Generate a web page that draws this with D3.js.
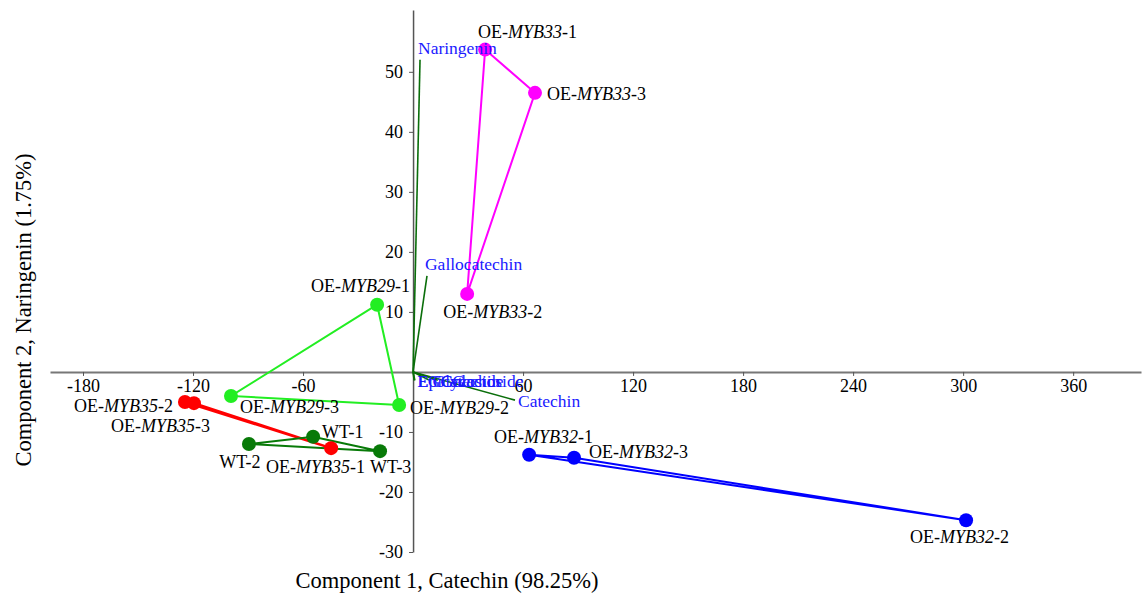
<!DOCTYPE html>
<html>
<head>
<meta charset="utf-8">
<script src="https://cdn.jsdelivr.net/npm/d3@7"></script>
<style>
  body { margin: 0; background: #fff; }
  text { font-family: "Liberation Serif", "DejaVu Serif", serif; }
  .axis text { font-size: 18px; fill: #000; }
</style>
</head>
<body>
<div id="pca"></div>
<script>
// Sample scores (Component 1, Component 2)
const groups = ["OE-MYB33", "OE-MYB29", "OE-MYB35", "WT", "OE-MYB32"];
const sampleNames = [
  "OE-MYB33-1", "OE-MYB33-2", "OE-MYB33-3",
  "OE-MYB29-1", "OE-MYB29-2", "OE-MYB29-3",
  "OE-MYB35-1", "OE-MYB35-2", "OE-MYB35-3",
  "WT-1", "WT-2", "WT-3",
  "OE-MYB32-1", "OE-MYB32-2", "OE-MYB32-3"
];
const sampleGroup = [0, 0, 0, 1, 1, 1, 2, 2, 2, 3, 3, 3, 4, 4, 4];
const pc1 = [39.3, 29.5, 66.5, -19.6, -7.6, -99.3, -44.7, -124.4, -119.5, -54.5, -89.5, -18.0, 63.3, 301.6, 87.8];
const pc2 = [53.7, 13.0, 46.5, 11.2, -5.5, -4.0, -12.7, -5.0, -5.2, -10.8, -12.0, -13.2, -13.8, -24.7, -14.3];

// Loadings (biplot vectors)
const loadingNames = ["Naringenin", "Gallocatechin", "Catechin", "EGCG", "Epicatechin", "Glycoside", "Galactoside"];
const loadX = [3.8, 7.6, 55.6, 0.6, 1.0, 9.0, 13.5];
const loadY = [52.0, 16.0, -4.7, -1.4, -1.4, -1.4, -1.4];

const xTicks = [-180, -120, -60, 60, 120, 180, 240, 300, 360];
const yTicks = [-30, -20, -10, 10, 20, 30, 40, 50];

// styling and label placement
const groupColor = ["#ff00ff", "#22ee22", "#ff0000", "#087a08", "#0000ff"];
const labelPos = {
  "OE-MYB33-1": [-7, -12, "start"],
  "OE-MYB33-2": [-24, 24, "start"],
  "OE-MYB33-3": [12, 7, "start"],
  "OE-MYB29-1": [33, -13, "end"],
  "OE-MYB29-2": [11, 9, "start"],
  "OE-MYB29-3": [9, 17, "start"],
  "OE-MYB35-1": [34, 25, "end"],
  "OE-MYB35-2": [-12, 10, "end"],
  "OE-MYB35-3": [16, 29, "end"],
  "WT-1": [9, 1, "start"],
  "WT-2": [-9, 24, "middle"],
  "WT-3": [-10, 22, "start"],
  "OE-MYB32-1": [-35, -12, "start"],
  "OE-MYB32-2": [-56, 23, "start"],
  "OE-MYB32-3": [15, 0, "start"]
};

const W = 1142, H = 596;
const svg = d3.select("#pca").append("svg")
  .attr("width", W)
  .attr("height", H);

const x = d3.scaleLinear().domain([-198, 397]).range([50, 1141]);
const y = d3.scaleLinear().domain([-30, 60.3]).range([552, 10]);

// Axes crossing at origin
const xAxis = svg.append("g")
  .attr("class", "axis")
  .attr("transform", `translate(0,${y(0)})`)
  .call(d3.axisBottom(x).tickValues(xTicks).tickFormat(d => String(d))
    .tickSize(4).tickPadding(3).tickSizeOuter(0));
xAxis.select(".domain").attr("stroke", "#777").attr("stroke-width", 2);
xAxis.selectAll(".tick line").attr("stroke", "#555");

const yAxis = svg.append("g")
  .attr("class", "axis")
  .attr("transform", `translate(${x(0)},0)`)
  .call(d3.axisLeft(y).tickValues(yTicks).tickFormat(d => String(d))
    .tickSize(4).tickPadding(6).tickSizeOuter(0));
yAxis.select(".domain").attr("stroke", "#555").attr("stroke-width", 1.5);
yAxis.selectAll(".tick line").attr("stroke", "#555");

// Axis titles
svg.append("text")
  .attr("x", 447)
  .attr("y", 588)
  .attr("text-anchor", "middle")
  .style("font-size", "22.5px")
  .text("Component 1, Catechin (98.25%)");

svg.append("text")
  .attr("transform", "rotate(-90)")
  .attr("x", -310)
  .attr("y", 31)
  .attr("text-anchor", "middle")
  .style("font-size", "22.5px")
  .text("Component 2, Naringenin (1.75%)");

// Loading vectors
const loadings = loadingNames.map((n, i) => ({ name: n, x: loadX[i], y: loadY[i] }));
svg.append("g").selectAll("line")
  .data(loadings)
  .join("line")
  .attr("x1", x(0)).attr("y1", y(0))
  .attr("x2", d => x(d.x)).attr("y2", d => y(d.y))
  .attr("stroke", "#0a6e0a")
  .attr("stroke-width", 1.6);

// Group hulls
const samples = sampleNames.map((n, i) => ({ name: n, g: sampleGroup[i], x: pc1[i], y: pc2[i] }));
const hullLine = d3.line()
  .x(d => x(d[0]))
  .y(d => y(d[1]))
  .curve(d3.curveLinearClosed);

groups.forEach((g, gi) => {
  const pts = samples.filter(d => d.g === gi).map(d => [d.x, d.y]);
  const hull = d3.polygonHull(pts) || pts;
  svg.append("path")
    .attr("d", hullLine(hull))
    .attr("fill", "none")
    .attr("stroke", groupColor[gi])
    .attr("stroke-width", gi === 2 ? 2.5 : 2);
});

// Points
svg.append("g").selectAll("circle")
  .data(samples)
  .join("circle")
  .attr("cx", d => x(d.x))
  .attr("cy", d => y(d.y))
  .attr("r", 7)
  .attr("fill", d => groupColor[d.g]);

// Sample labels (gene name in italics)
svg.append("g").selectAll("text")
  .data(samples)
  .join("text")
  .attr("x", d => x(d.x) + labelPos[d.name][0])
  .attr("y", d => y(d.y) + labelPos[d.name][1])
  .attr("text-anchor", d => labelPos[d.name][2])
  .style("font-size", "18px")
  .each(function (d) {
    const t = d3.select(this);
    const m = d.name.match(/^OE-(MYB\d+)-(\d)$/);
    if (m) {
      t.append("tspan").text("OE-");
      t.append("tspan").style("font-style", "italic").text(m[1]);
      t.append("tspan").text("-" + m[2]);
    } else {
      t.text(d.name);
    }
  });

// Loading labels
svg.append("g").selectAll("text")
  .data(loadings)
  .join("text")
  .attr("x", d => x(d.x) + (d.y > 10 ? -2 : 3))
  .attr("y", d => y(d.y) - (d.y > 10 ? 6 : -7))
  .attr("fill", "#1a1aff")
  .style("font-size", "17.5px")
  .text(d => d.name);
</script>
</body>
</html>
